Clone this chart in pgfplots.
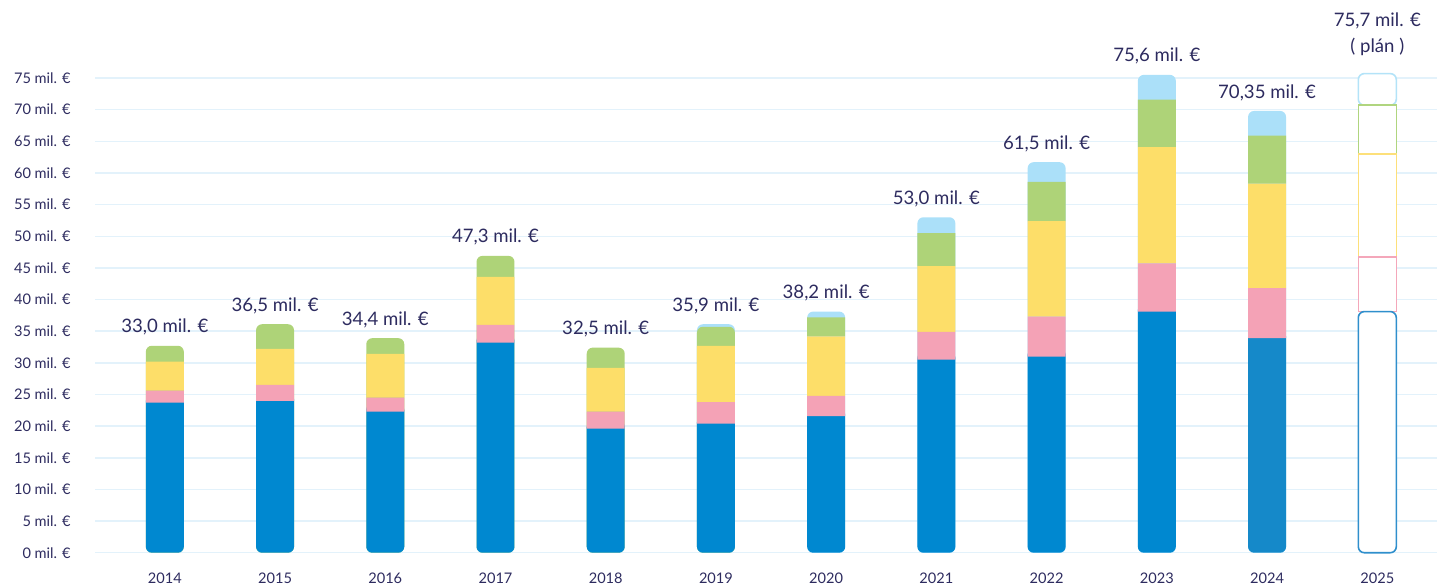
\documentclass[border=0pt]{standalone}
\usepackage{fontspec}
\setmainfont{Lato}
\usepackage{pgfplots}
\usepackage{pgfplotstable}
\pgfplotsset{compat=1.18}
\definecolor{cblue}{HTML}{0088D0}
\definecolor{cblueb}{HTML}{1589C9}
\definecolor{cpink}{HTML}{F4A2B6}
\definecolor{cyellow}{HTML}{FDDE69}
\definecolor{cgreen}{HTML}{AED378}
\definecolor{clb}{HTML}{ABE0F9}
\definecolor{oblue}{HTML}{2F8FCC}
\definecolor{opink}{HTML}{F4A7BA}
\definecolor{oyellow}{HTML}{FDE07A}
\definecolor{ogreen}{HTML}{B0D57F}
\definecolor{olb}{HTML}{B3E3F8}
\definecolor{gridc}{HTML}{E3F2FB}
\definecolor{txt}{HTML}{2D2B5F}

\pgfplotstableread{
x blue pink yellow green lb
0 23.7 1.9 4.6 2.5 0
1 24.0 2.5 5.7 3.9 0
2 22.3 2.2 6.9 2.5 0
3 33.2 2.8 7.6 3.3 0
4 19.6 2.7 6.9 3.2 0
5 20.4 3.4 8.9 3.0 0.4
6 21.6 3.2 9.4 3.0 0.9
7 30.5 4.4 10.4 5.2 2.5
8 31.0 6.3 15.1 6.2 3.1
9 38.1 7.6 18.4 7.5 3.9
10 33.9 7.9 16.5 7.6 3.9
11 38.1 8.6 16.3 7.7 5.0
}\data

\pgfplotsset{base/.style={
  at={(0,0)}, anchor=south west,
  scale only axis, width=671.5pt, height=253.3pt,
  xmin=-0.634, xmax=11.544, ymin=0, ymax=80,
  clip=false, bar width=19pt,
}}

\begin{document}
\begin{tikzpicture}
\begin{axis}[base,
  ytick={0,5,...,75},
  yticklabels={0 mil. €,5 mil. €,10 mil. €,15 mil. €,20 mil. €,25 mil. €,30 mil. €,35 mil. €,40 mil. €,45 mil. €,50 mil. €,55 mil. €,60 mil. €,65 mil. €,70 mil. €,75 mil. €},
  xtick={0,...,11},
  xticklabels={2014,2015,2016,2017,2018,2019,2020,2021,2022,2023,2024,2025},
  ymajorgrids, grid style={gridc, line width=0.75pt},
  axis line style={draw=none}, tick style={draw=none},
  tick label style={font=\fontsize{7.3}{8}\selectfont, text=txt},
  yticklabel style={inner sep=0pt, anchor=east, xshift=-12pt},
  xticklabel style={inner sep=0pt, anchor=north, yshift=-10pt},
]
\addplot[ybar, bar shift=0pt, fill=clb, draw=none, rounded corners=3pt, restrict x to domain=4.5:10.5]
  table[x=x, y expr=\thisrow{blue}+\thisrow{pink}+\thisrow{yellow}+\thisrow{green}+\thisrow{lb}] {\data};
\addplot[ybar, bar shift=0pt, fill=cgreen, draw=none, rounded corners=3pt, restrict x to domain=-0.5:5.5]
  table[x=x, y expr=\thisrow{blue}+\thisrow{pink}+\thisrow{yellow}+\thisrow{green}] {\data};
\addplot[ybar, bar shift=0pt, fill=cblue, draw=none, rounded corners=3pt, restrict x to domain=-0.5:9.5]
  table[x=x, y expr=\thisrow{blue}+1.2] {\data};
\addplot[ybar, bar shift=0pt, fill=cblueb, draw=none, rounded corners=3pt, restrict x to domain=9.5:10.5]
  table[x=x, y expr=\thisrow{blue}+1.2] {\data};
\addplot[draw=none, mark=none, nodes near coords, point meta=explicit symbolic,
  nodes near coords style={anchor=south, font=\fontsize{9.3}{11}\selectfont, text=txt, inner sep=0pt, yshift=5pt}]
  coordinates {
  (0,32.7) [33,0 mil. €]
  (1,36.1) [36,5 mil. €]
  (2,33.9) [34,4 mil. €]
  (3,46.9) [47,3 mil. €]
  (4,32.4) [32,5 mil. €]
  (5,36.1) [35,9 mil. €]
  (6,38.1) [38,2 mil. €]
  (7,53.0) [53,0 mil. €]
  (8,61.7) [61,5 mil. €]
  (9,75.5) [75,6 mil. €]
  (10,69.8) [70,35 mil. €]
  };
\addplot[draw=none, mark=none, nodes near coords, point meta=explicit symbolic,
  nodes near coords style={anchor=south, font=\fontsize{9.3}{13}\selectfont, text=txt, inner sep=0pt, yshift=9pt, align=center}]
  coordinates {
  (11,75.7) [75,7 mil. €\\( plán )]
  };
\end{axis}

\begin{axis}[base, hide axis, ybar stacked]
\addplot[draw=none, fill=none, restrict x to domain=-0.5:10.5] table[x=x, y=blue] {\data};
\addplot[draw=none, fill=cpink, restrict x to domain=-0.5:10.5] table[x=x, y=pink] {\data};
\addplot[draw=none, fill=cyellow, restrict x to domain=-0.5:10.5] table[x=x, y=yellow] {\data};
\addplot[draw=none, fill=cgreen, restrict x to domain=-0.5:10.5] table[x=x, y expr={\thisrow{x}>5.5 ? \thisrow{green} : 0}] {\data};
\end{axis}

\begin{axis}[base, hide axis, ybar stacked]
\addplot[fill=white, draw=oblue, line width=0.8pt, rounded corners=3pt, restrict x to domain=10.5:11.5] table[x=x, y=blue] {\data};
\addplot[fill=white, draw=opink, line width=0.8pt, restrict x to domain=10.5:11.5] table[x=x, y=pink] {\data};
\addplot[fill=white, draw=oyellow, line width=0.8pt, restrict x to domain=10.5:11.5] table[x=x, y=yellow] {\data};
\addplot[fill=white, draw=ogreen, line width=0.8pt, restrict x to domain=10.5:11.5] table[x=x, y=green] {\data};
\addplot[fill=white, draw=olb, line width=0.8pt, rounded corners=3pt, restrict x to domain=10.5:11.5] table[x=x, y=lb] {\data};
\end{axis}

\path (-47.5pt,-16pt) rectangle (671.5pt,276.5pt);
\end{tikzpicture}
\end{document}
